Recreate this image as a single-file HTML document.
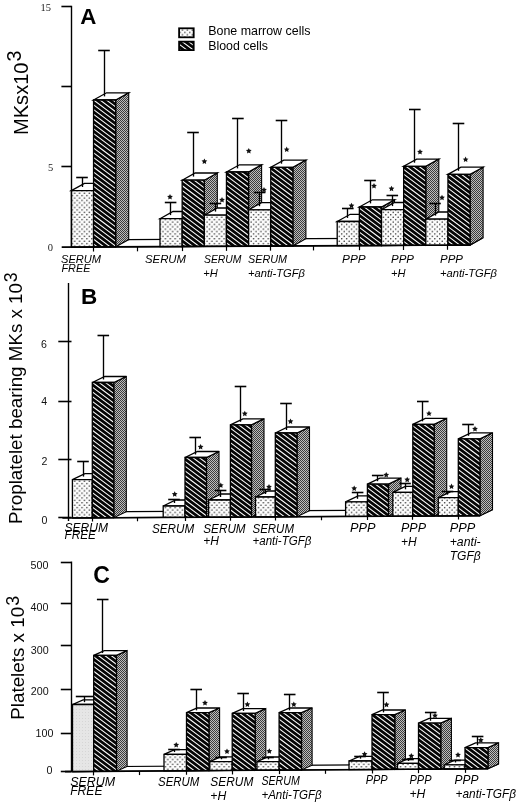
<!DOCTYPE html><html><head><meta charset="utf-8"><style>html,body{margin:0;padding:0;background:#fff;}svg{display:block;filter:blur(0.25px);}</style></head><body>
<svg width="520" height="806" viewBox="0 0 520 806">
<defs>
<pattern id="dots" patternUnits="userSpaceOnUse" width="4.9" height="4.8">
 <rect width="4.9" height="4.8" fill="#fdfdfd"/>
 <circle cx="1.2" cy="1.2" r="0.78" fill="#222"/>
 <circle cx="3.65" cy="3.6" r="0.78" fill="#222"/>
</pattern>
<pattern id="hatch" patternUnits="userSpaceOnUse" width="10" height="3.9" patternTransform="rotate(36)">
 <rect width="10" height="3.9" fill="#050505"/>
 <rect y="1.45" width="10" height="1.0" fill="#ffffff"/>
</pattern>
<pattern id="side" patternUnits="userSpaceOnUse" width="2" height="2">
 <rect width="2" height="2" fill="#bdbdbd"/>
 <rect width="1" height="1" fill="#3c3c3c"/>
 <rect x="1" y="1" width="1" height="1" fill="#3c3c3c"/>
</pattern>
<pattern id="lg" patternUnits="userSpaceOnUse" width="3" height="3"><rect width="3" height="3" fill="#e6e6e6"/><rect x="1" y="1" width="1" height="1" fill="#d6d6d6"/></pattern>
</defs>
<rect width="520" height="806" fill="#fff"/>
<polygon points="71.4,247.05 84.4,239.79 483.1,237.79 470.1,245.06" fill="#fff" stroke="#000" stroke-width="1.2" stroke-linejoin="miter" />
<polygon points="93.55,190.6 106.55,183.4 106.55,239.68 93.55,246.94" fill="url(#side)" stroke="#000" stroke-width="1.1" stroke-linejoin="miter" />
<polygon points="71.4,190.6 84.4,183.4 106.55,183.4 93.55,190.6" fill="#fff" stroke="#000" stroke-width="1.3" stroke-linejoin="miter" />
<polygon points="71.4,190.6 93.55,190.6 93.55,246.94 71.4,247.05" fill="url(#dots)" stroke="#000" stroke-width="1.3" stroke-linejoin="miter" />
<line x1="82.5" y1="177.9" x2="82.5" y2="187" stroke="#000" stroke-width="1.35"/>
<line x1="76.2" y1="177.5" x2="87.8" y2="177.5" stroke="#000" stroke-width="1.6"/>
<polygon points="115.7,100 128.7,92.8 128.7,239.57 115.7,246.83" fill="url(#side)" stroke="#000" stroke-width="1.1" stroke-linejoin="miter" />
<polygon points="93.55,100 106.55,92.8 128.7,92.8 115.7,100" fill="#fff" stroke="#000" stroke-width="1.3" stroke-linejoin="miter" />
<clipPath id="c1"><polygon points="93.55,100 115.7,100 115.7,246.83 93.55,246.94"/></clipPath>
<polygon points="93.55,100 115.7,100 115.7,246.83 93.55,246.94" fill="#050505"/>
<path clip-path="url(#c1)" d="M92.55 75.21L116.7 93.32M92.55 80.01L116.7 98.12M92.55 84.81L116.7 102.92M92.55 89.61L116.7 107.72M92.55 94.41L116.7 112.52M92.55 99.21L116.7 117.32M92.55 104.01L116.7 122.12M92.55 108.81L116.7 126.92M92.55 113.61L116.7 131.72M92.55 118.41L116.7 136.52M92.55 123.21L116.7 141.32M92.55 128.01L116.7 146.12M92.55 132.81L116.7 150.92M92.55 137.61L116.7 155.72M92.55 142.41L116.7 160.53M92.55 147.21L116.7 165.33M92.55 152.01L116.7 170.13M92.55 156.81L116.7 174.93M92.55 161.61L116.7 179.73M92.55 166.41L116.7 184.53M92.55 171.21L116.7 189.33M92.55 176.01L116.7 194.13M92.55 180.81L116.7 198.93M92.55 185.61L116.7 203.73M92.55 190.41L116.7 208.53M92.55 195.21L116.7 213.33M92.55 200.01L116.7 218.13M92.55 204.81L116.7 222.93M92.55 209.61L116.7 227.73M92.55 214.41L116.7 232.53M92.55 219.21L116.7 237.33M92.55 224.01L116.7 242.13M92.55 228.81L116.7 246.93M92.55 233.61L116.7 251.73M92.55 238.41L116.7 256.53M92.55 243.21L116.7 261.33M92.55 248.01L116.7 266.13" stroke="#fff" stroke-width="1.05" fill="none"/>
<polygon points="93.55,100 115.7,100 115.7,246.83 93.55,246.94" fill="none" stroke="#000" stroke-width="1.3"/>
<line x1="104.5" y1="50.8" x2="104.5" y2="96.4" stroke="#000" stroke-width="1.35"/>
<line x1="98.2" y1="50.5" x2="109.8" y2="50.5" stroke="#000" stroke-width="1.6"/>
<polygon points="182.15,218.7 195.15,211.5 195.15,239.23 182.15,246.5" fill="url(#side)" stroke="#000" stroke-width="1.1" stroke-linejoin="miter" />
<polygon points="160,218.7 173,211.5 195.15,211.5 182.15,218.7" fill="#fff" stroke="#000" stroke-width="1.3" stroke-linejoin="miter" />
<polygon points="160,218.7 182.15,218.7 182.15,246.5 160,246.61" fill="url(#dots)" stroke="#000" stroke-width="1.3" stroke-linejoin="miter" />
<line x1="170.5" y1="202.3" x2="170.5" y2="215.1" stroke="#000" stroke-width="1.35"/>
<line x1="164.8" y1="202.5" x2="176.4" y2="202.5" stroke="#000" stroke-width="1.6"/>
<polygon points="204.3,180.2 217.3,173 217.3,239.12 204.3,246.39" fill="url(#side)" stroke="#000" stroke-width="1.1" stroke-linejoin="miter" />
<polygon points="182.15,180.2 195.15,173 217.3,173 204.3,180.2" fill="#fff" stroke="#000" stroke-width="1.3" stroke-linejoin="miter" />
<clipPath id="c2"><polygon points="182.15,180.2 204.3,180.2 204.3,246.39 182.15,246.5"/></clipPath>
<polygon points="182.15,180.2 204.3,180.2 204.3,246.39 182.15,246.5" fill="#050505"/>
<path clip-path="url(#c2)" d="M181.15 156.06L205.3 174.18M181.15 160.86L205.3 178.98M181.15 165.66L205.3 183.78M181.15 170.46L205.3 188.58M181.15 175.26L205.3 193.38M181.15 180.06L205.3 198.18M181.15 184.86L205.3 202.98M181.15 189.66L205.3 207.78M181.15 194.46L205.3 212.58M181.15 199.26L205.3 217.38M181.15 204.06L205.3 222.18M181.15 208.86L205.3 226.98M181.15 213.66L205.3 231.78M181.15 218.46L205.3 236.58M181.15 223.26L205.3 241.38M181.15 228.06L205.3 246.18M181.15 232.86L205.3 250.98M181.15 237.66L205.3 255.78M181.15 242.46L205.3 260.58M181.15 247.26L205.3 265.38" stroke="#fff" stroke-width="1.05" fill="none"/>
<polygon points="182.15,180.2 204.3,180.2 204.3,246.39 182.15,246.5" fill="none" stroke="#000" stroke-width="1.3"/>
<line x1="193.5" y1="132.7" x2="193.5" y2="176.6" stroke="#000" stroke-width="1.35"/>
<line x1="187.2" y1="132.5" x2="198.8" y2="132.5" stroke="#000" stroke-width="1.6"/>
<polygon points="226.45,215.2 239.45,208 239.45,239.01 226.45,246.28" fill="url(#side)" stroke="#000" stroke-width="1.1" stroke-linejoin="miter" />
<polygon points="204.3,215.2 217.3,208 239.45,208 226.45,215.2" fill="#fff" stroke="#000" stroke-width="1.3" stroke-linejoin="miter" />
<polygon points="204.3,215.2 226.45,215.2 226.45,246.28 204.3,246.39" fill="url(#dots)" stroke="#000" stroke-width="1.3" stroke-linejoin="miter" />
<line x1="215.5" y1="203.8" x2="215.5" y2="211.6" stroke="#000" stroke-width="1.35"/>
<line x1="209.6" y1="203.5" x2="221.2" y2="203.5" stroke="#000" stroke-width="1.6"/>
<polygon points="248.6,172 261.6,164.8 261.6,238.9 248.6,246.17" fill="url(#side)" stroke="#000" stroke-width="1.1" stroke-linejoin="miter" />
<polygon points="226.45,172 239.45,164.8 261.6,164.8 248.6,172" fill="#fff" stroke="#000" stroke-width="1.3" stroke-linejoin="miter" />
<clipPath id="c3"><polygon points="226.45,172 248.6,172 248.6,246.17 226.45,246.28"/></clipPath>
<polygon points="226.45,172 248.6,172 248.6,246.17 226.45,246.28" fill="#050505"/>
<path clip-path="url(#c3)" d="M225.45 146.09L249.6 164.2M225.45 150.89L249.6 169M225.45 155.69L249.6 173.8M225.45 160.49L249.6 178.6M225.45 165.29L249.6 183.4M225.45 170.09L249.6 188.2M225.45 174.89L249.6 193M225.45 179.69L249.6 197.8M225.45 184.49L249.6 202.6M225.45 189.29L249.6 207.4M225.45 194.09L249.6 212.2M225.45 198.89L249.6 217M225.45 203.69L249.6 221.8M225.45 208.49L249.6 226.6M225.45 213.29L249.6 231.4M225.45 218.09L249.6 236.2M225.45 222.89L249.6 241M225.45 227.69L249.6 245.8M225.45 232.49L249.6 250.6M225.45 237.29L249.6 255.4M225.45 242.09L249.6 260.2M225.45 246.89L249.6 265" stroke="#fff" stroke-width="1.05" fill="none"/>
<polygon points="226.45,172 248.6,172 248.6,246.17 226.45,246.28" fill="none" stroke="#000" stroke-width="1.3"/>
<line x1="237.5" y1="118.8" x2="237.5" y2="168.4" stroke="#000" stroke-width="1.35"/>
<line x1="232.1" y1="118.5" x2="243.7" y2="118.5" stroke="#000" stroke-width="1.6"/>
<polygon points="270.75,209.8 283.75,202.6 283.75,238.79 270.75,246.06" fill="url(#side)" stroke="#000" stroke-width="1.1" stroke-linejoin="miter" />
<polygon points="248.6,209.8 261.6,202.6 283.75,202.6 270.75,209.8" fill="#fff" stroke="#000" stroke-width="1.3" stroke-linejoin="miter" />
<polygon points="248.6,209.8 270.75,209.8 270.75,246.06 248.6,246.17" fill="url(#dots)" stroke="#000" stroke-width="1.3" stroke-linejoin="miter" />
<line x1="259.5" y1="192.5" x2="259.5" y2="206.2" stroke="#000" stroke-width="1.35"/>
<line x1="253.8" y1="192.5" x2="265.4" y2="192.5" stroke="#000" stroke-width="1.6"/>
<polygon points="292.9,167.3 305.9,160.1 305.9,238.68 292.9,245.95" fill="url(#side)" stroke="#000" stroke-width="1.1" stroke-linejoin="miter" />
<polygon points="270.75,167.3 283.75,160.1 305.9,160.1 292.9,167.3" fill="#fff" stroke="#000" stroke-width="1.3" stroke-linejoin="miter" />
<clipPath id="c4"><polygon points="270.75,167.3 292.9,167.3 292.9,245.95 270.75,246.06"/></clipPath>
<polygon points="270.75,167.3 292.9,167.3 292.9,245.95 270.75,246.06" fill="#050505"/>
<path clip-path="url(#c4)" d="M269.75 140.91L293.9 159.02M269.75 145.71L293.9 163.82M269.75 150.51L293.9 168.62M269.75 155.31L293.9 173.43M269.75 160.11L293.9 178.23M269.75 164.91L293.9 183.03M269.75 169.71L293.9 187.83M269.75 174.51L293.9 192.63M269.75 179.31L293.9 197.43M269.75 184.11L293.9 202.23M269.75 188.91L293.9 207.03M269.75 193.71L293.9 211.83M269.75 198.51L293.9 216.63M269.75 203.31L293.9 221.43M269.75 208.11L293.9 226.23M269.75 212.91L293.9 231.03M269.75 217.71L293.9 235.83M269.75 222.51L293.9 240.63M269.75 227.31L293.9 245.43M269.75 232.11L293.9 250.23M269.75 236.91L293.9 255.03M269.75 241.71L293.9 259.83M269.75 246.51L293.9 264.63" stroke="#fff" stroke-width="1.05" fill="none"/>
<polygon points="270.75,167.3 292.9,167.3 292.9,245.95 270.75,246.06" fill="none" stroke="#000" stroke-width="1.3"/>
<line x1="281.5" y1="120.2" x2="281.5" y2="163.7" stroke="#000" stroke-width="1.35"/>
<line x1="275.7" y1="120.5" x2="287.3" y2="120.5" stroke="#000" stroke-width="1.6"/>
<polygon points="359.35,221.5 372.35,214.3 372.35,238.35 359.35,245.61" fill="url(#side)" stroke="#000" stroke-width="1.1" stroke-linejoin="miter" />
<polygon points="337.2,221.5 350.2,214.3 372.35,214.3 359.35,221.5" fill="#fff" stroke="#000" stroke-width="1.3" stroke-linejoin="miter" />
<polygon points="337.2,221.5 359.35,221.5 359.35,245.61 337.2,245.72" fill="url(#dots)" stroke="#000" stroke-width="1.3" stroke-linejoin="miter" />
<line x1="347.5" y1="208.5" x2="347.5" y2="217.9" stroke="#000" stroke-width="1.35"/>
<line x1="342" y1="208.5" x2="353.6" y2="208.5" stroke="#000" stroke-width="1.6"/>
<polygon points="381.5,207 394.5,199.8 394.5,238.24 381.5,245.5" fill="url(#side)" stroke="#000" stroke-width="1.1" stroke-linejoin="miter" />
<polygon points="359.35,207 372.35,199.8 394.5,199.8 381.5,207" fill="#fff" stroke="#000" stroke-width="1.3" stroke-linejoin="miter" />
<clipPath id="c5"><polygon points="359.35,207 381.5,207 381.5,245.5 359.35,245.61"/></clipPath>
<polygon points="359.35,207 381.5,207 381.5,245.5 359.35,245.61" fill="#050505"/>
<path clip-path="url(#c5)" d="M358.35 183.36L382.5 201.48M358.35 188.16L382.5 206.28M358.35 192.96L382.5 211.08M358.35 197.76L382.5 215.88M358.35 202.56L382.5 220.68M358.35 207.36L382.5 225.48M358.35 212.16L382.5 230.28M358.35 216.96L382.5 235.08M358.35 221.76L382.5 239.88M358.35 226.56L382.5 244.68M358.35 231.36L382.5 249.48M358.35 236.16L382.5 254.28M358.35 240.96L382.5 259.08M358.35 245.76L382.5 263.88" stroke="#fff" stroke-width="1.05" fill="none"/>
<polygon points="359.35,207 381.5,207 381.5,245.5 359.35,245.61" fill="none" stroke="#000" stroke-width="1.3"/>
<line x1="370.5" y1="180.8" x2="370.5" y2="203.4" stroke="#000" stroke-width="1.35"/>
<line x1="364.2" y1="180.5" x2="375.8" y2="180.5" stroke="#000" stroke-width="1.6"/>
<polygon points="403.65,209.7 416.65,202.5 416.65,238.13 403.65,245.39" fill="url(#side)" stroke="#000" stroke-width="1.1" stroke-linejoin="miter" />
<polygon points="381.5,209.7 394.5,202.5 416.65,202.5 403.65,209.7" fill="#fff" stroke="#000" stroke-width="1.3" stroke-linejoin="miter" />
<polygon points="381.5,209.7 403.65,209.7 403.65,245.39 381.5,245.5" fill="url(#dots)" stroke="#000" stroke-width="1.3" stroke-linejoin="miter" />
<line x1="392.5" y1="195" x2="392.5" y2="206.1" stroke="#000" stroke-width="1.35"/>
<line x1="386.5" y1="195.5" x2="398.1" y2="195.5" stroke="#000" stroke-width="1.6"/>
<polygon points="425.8,166.3 438.8,159.1 438.8,238.02 425.8,245.28" fill="url(#side)" stroke="#000" stroke-width="1.1" stroke-linejoin="miter" />
<polygon points="403.65,166.3 416.65,159.1 438.8,159.1 425.8,166.3" fill="#fff" stroke="#000" stroke-width="1.3" stroke-linejoin="miter" />
<clipPath id="c6"><polygon points="403.65,166.3 425.8,166.3 425.8,245.28 403.65,245.39"/></clipPath>
<polygon points="403.65,166.3 425.8,166.3 425.8,245.28 403.65,245.39" fill="#050505"/>
<path clip-path="url(#c6)" d="M402.65 139.79L426.8 157.9M402.65 144.59L426.8 162.7M402.65 149.39L426.8 167.5M402.65 154.19L426.8 172.3M402.65 158.99L426.8 177.1M402.65 163.79L426.8 181.9M402.65 168.59L426.8 186.7M402.65 173.39L426.8 191.5M402.65 178.19L426.8 196.3M402.65 182.99L426.8 201.1M402.65 187.79L426.8 205.9M402.65 192.59L426.8 210.7M402.65 197.39L426.8 215.5M402.65 202.19L426.8 220.3M402.65 206.99L426.8 225.1M402.65 211.79L426.8 229.9M402.65 216.59L426.8 234.7M402.65 221.39L426.8 239.5M402.65 226.19L426.8 244.3M402.65 230.99L426.8 249.1M402.65 235.79L426.8 253.9M402.65 240.59L426.8 258.7M402.65 245.39L426.8 263.5" stroke="#fff" stroke-width="1.05" fill="none"/>
<polygon points="403.65,166.3 425.8,166.3 425.8,245.28 403.65,245.39" fill="none" stroke="#000" stroke-width="1.3"/>
<line x1="414.5" y1="109.6" x2="414.5" y2="162.7" stroke="#000" stroke-width="1.35"/>
<line x1="409" y1="109.5" x2="420.6" y2="109.5" stroke="#000" stroke-width="1.6"/>
<polygon points="447.95,219.2 460.95,212 460.95,237.91 447.95,245.17" fill="url(#side)" stroke="#000" stroke-width="1.1" stroke-linejoin="miter" />
<polygon points="425.8,219.2 438.8,212 460.95,212 447.95,219.2" fill="#fff" stroke="#000" stroke-width="1.3" stroke-linejoin="miter" />
<polygon points="425.8,219.2 447.95,219.2 447.95,245.17 425.8,245.28" fill="url(#dots)" stroke="#000" stroke-width="1.3" stroke-linejoin="miter" />
<line x1="435.5" y1="203" x2="435.5" y2="215.6" stroke="#000" stroke-width="1.35"/>
<line x1="429.2" y1="203.5" x2="440.8" y2="203.5" stroke="#000" stroke-width="1.6"/>
<polygon points="470.1,174.4 483.1,167.2 483.1,237.79 470.1,245.06" fill="url(#side)" stroke="#000" stroke-width="1.1" stroke-linejoin="miter" />
<polygon points="447.95,174.4 460.95,167.2 483.1,167.2 470.1,174.4" fill="#fff" stroke="#000" stroke-width="1.3" stroke-linejoin="miter" />
<clipPath id="c7"><polygon points="447.95,174.4 470.1,174.4 470.1,245.06 447.95,245.17"/></clipPath>
<polygon points="447.95,174.4 470.1,174.4 470.1,245.06 447.95,245.17" fill="#050505"/>
<path clip-path="url(#c7)" d="M446.95 149.01L471.1 167.12M446.95 153.81L471.1 171.93M446.95 158.61L471.1 176.73M446.95 163.41L471.1 181.53M446.95 168.21L471.1 186.33M446.95 173.01L471.1 191.13M446.95 177.81L471.1 195.93M446.95 182.61L471.1 200.73M446.95 187.41L471.1 205.53M446.95 192.21L471.1 210.33M446.95 197.01L471.1 215.13M446.95 201.81L471.1 219.93M446.95 206.61L471.1 224.73M446.95 211.41L471.1 229.53M446.95 216.21L471.1 234.33M446.95 221.01L471.1 239.13M446.95 225.81L471.1 243.93M446.95 230.61L471.1 248.73M446.95 235.41L471.1 253.53M446.95 240.21L471.1 258.33M446.95 245.01L471.1 263.13" stroke="#fff" stroke-width="1.05" fill="none"/>
<polygon points="447.95,174.4 470.1,174.4 470.1,245.06 447.95,245.17" fill="none" stroke="#000" stroke-width="1.3"/>
<line x1="458.5" y1="123" x2="458.5" y2="170.8" stroke="#000" stroke-width="1.35"/>
<line x1="452.7" y1="123.5" x2="464.3" y2="123.5" stroke="#000" stroke-width="1.6"/>
<polygon points="170,194 170.88,195.79 172.85,196.07 171.43,197.46 171.76,199.43 170,198.5 168.24,199.43 168.57,197.46 167.15,196.07 169.12,195.79" fill="#111" stroke="none"/>
<polygon points="204.4,158.5 205.28,160.29 207.25,160.57 205.83,161.96 206.16,163.93 204.4,163 202.64,163.93 202.97,161.96 201.55,160.57 203.52,160.29" fill="#111" stroke="none"/>
<polygon points="222,197 222.88,198.79 224.85,199.07 223.43,200.46 223.76,202.43 222,201.5 220.24,202.43 220.57,200.46 219.15,199.07 221.12,198.79" fill="#111" stroke="none"/>
<polygon points="248.8,148 249.68,149.79 251.65,150.07 250.23,151.46 250.56,153.43 248.8,152.5 247.04,153.43 247.37,151.46 245.95,150.07 247.92,149.79" fill="#111" stroke="none"/>
<polygon points="264,187 264.88,188.79 266.85,189.07 265.43,190.46 265.76,192.43 264,191.5 262.24,192.43 262.57,190.46 261.15,189.07 263.12,188.79" fill="#111" stroke="none"/>
<polygon points="286.7,146.6 287.58,148.39 289.55,148.67 288.13,150.06 288.46,152.03 286.7,151.1 284.94,152.03 285.27,150.06 283.85,148.67 285.82,148.39" fill="#111" stroke="none"/>
<polygon points="351.5,202.7 352.38,204.49 354.35,204.77 352.93,206.16 353.26,208.13 351.5,207.2 349.74,208.13 350.07,206.16 348.65,204.77 350.62,204.49" fill="#111" stroke="none"/>
<polygon points="374,183 374.88,184.79 376.85,185.07 375.43,186.46 375.76,188.43 374,187.5 372.24,188.43 372.57,186.46 371.15,185.07 373.12,184.79" fill="#111" stroke="none"/>
<polygon points="391.5,185.8 392.38,187.59 394.35,187.87 392.93,189.26 393.26,191.23 391.5,190.3 389.74,191.23 390.07,189.26 388.65,187.87 390.62,187.59" fill="#111" stroke="none"/>
<polygon points="420,149 420.88,150.79 422.85,151.07 421.43,152.46 421.76,154.43 420,153.5 418.24,154.43 418.57,152.46 417.15,151.07 419.12,150.79" fill="#111" stroke="none"/>
<polygon points="442,194.7 442.88,196.49 444.85,196.77 443.43,198.16 443.76,200.13 442,199.2 440.24,200.13 440.57,198.16 439.15,196.77 441.12,196.49" fill="#111" stroke="none"/>
<polygon points="465.6,156.6 466.48,158.39 468.45,158.67 467.03,160.06 467.36,162.03 465.6,161.1 463.84,162.03 464.17,160.06 462.75,158.67 464.72,158.39" fill="#111" stroke="none"/>
<line x1="71.5" y1="5.8" x2="71.5" y2="247" stroke="#000" stroke-width="1.4"/>
<line x1="61.4" y1="6.5" x2="71.4" y2="6.5" stroke="#000" stroke-width="1.6"/>
<line x1="61.4" y1="86.5" x2="71.4" y2="86.5" stroke="#000" stroke-width="1.6"/>
<line x1="61.4" y1="166.5" x2="71.4" y2="166.5" stroke="#000" stroke-width="1.6"/>
<line x1="61.7" y1="247.1" x2="470.1" y2="245.06" stroke="#000" stroke-width="1.6"/>
<line x1="93.5" y1="246.94" x2="93.5" y2="251.54" stroke="#000" stroke-width="1.2"/>
<line x1="137.5" y1="246.72" x2="137.5" y2="251.32" stroke="#000" stroke-width="1.2"/>
<line x1="182.5" y1="246.5" x2="182.5" y2="251.1" stroke="#000" stroke-width="1.2"/>
<line x1="226.5" y1="246.28" x2="226.5" y2="250.88" stroke="#000" stroke-width="1.2"/>
<line x1="270.5" y1="246.06" x2="270.5" y2="250.66" stroke="#000" stroke-width="1.2"/>
<line x1="313.5" y1="245.84" x2="313.5" y2="250.44" stroke="#000" stroke-width="1.2"/>
<line x1="359.5" y1="245.61" x2="359.5" y2="250.21" stroke="#000" stroke-width="1.2"/>
<line x1="403.5" y1="245.39" x2="403.5" y2="249.99" stroke="#000" stroke-width="1.2"/>
<line x1="447.5" y1="245.17" x2="447.5" y2="249.77" stroke="#000" stroke-width="1.2"/>
<text x="40.4" y="10.6" font-size="10.5" font-family='"Liberation Serif", serif' fill="#222" >15</text>
<text x="48" y="171.2" font-size="10.5" font-family='"Liberation Serif", serif' fill="#222" >5</text>
<text x="47.8" y="250.8" font-size="10.5" font-family='"Liberation Serif", serif' fill="#222" >0</text>
<polygon points="72.4,517.94 84.9,511.87 492.5,509.63 480,515.7" fill="#fff" stroke="#000" stroke-width="1.2" stroke-linejoin="miter" />
<polygon points="92.3,479.6 104.8,473.6 104.8,511.76 92.3,517.83" fill="url(#side)" stroke="#000" stroke-width="1.1" stroke-linejoin="miter" />
<polygon points="72.4,479.6 84.9,473.6 104.8,473.6 92.3,479.6" fill="#fff" stroke="#000" stroke-width="1.3" stroke-linejoin="miter" />
<polygon points="72.4,479.6 92.3,479.6 92.3,517.83 72.4,517.94" fill="url(#dots)" stroke="#000" stroke-width="1.3" stroke-linejoin="miter" />
<line x1="83.5" y1="461.4" x2="83.5" y2="476.6" stroke="#000" stroke-width="1.35"/>
<line x1="77.2" y1="461.5" x2="88.8" y2="461.5" stroke="#000" stroke-width="1.6"/>
<polygon points="113.8,382.5 126.3,376.5 126.3,511.65 113.8,517.72" fill="url(#side)" stroke="#000" stroke-width="1.1" stroke-linejoin="miter" />
<polygon points="92.3,382.5 104.8,376.5 126.3,376.5 113.8,382.5" fill="#fff" stroke="#000" stroke-width="1.3" stroke-linejoin="miter" />
<clipPath id="c8"><polygon points="92.3,382.5 113.8,382.5 113.8,517.72 92.3,517.83"/></clipPath>
<polygon points="92.3,382.5 113.8,382.5 113.8,517.72 92.3,517.83" fill="#050505"/>
<path clip-path="url(#c8)" d="M91.3 357.48L114.8 375.1M91.3 362.28L114.8 379.9M91.3 367.08L114.8 384.7M91.3 371.88L114.8 389.5M91.3 376.68L114.8 394.3M91.3 381.48L114.8 399.1M91.3 386.28L114.8 403.9M91.3 391.08L114.8 408.7M91.3 395.88L114.8 413.5M91.3 400.68L114.8 418.3M91.3 405.48L114.8 423.1M91.3 410.28L114.8 427.9M91.3 415.08L114.8 432.7M91.3 419.88L114.8 437.5M91.3 424.68L114.8 442.3M91.3 429.48L114.8 447.1M91.3 434.28L114.8 451.9M91.3 439.08L114.8 456.7M91.3 443.88L114.8 461.5M91.3 448.68L114.8 466.3M91.3 453.48L114.8 471.1M91.3 458.28L114.8 475.9M91.3 463.08L114.8 480.7M91.3 467.88L114.8 485.5M91.3 472.68L114.8 490.3M91.3 477.48L114.8 495.1M91.3 482.28L114.8 499.9M91.3 487.08L114.8 504.7M91.3 491.88L114.8 509.5M91.3 496.68L114.8 514.3M91.3 501.48L114.8 519.1M91.3 506.28L114.8 523.9M91.3 511.08L114.8 528.7M91.3 515.88L114.8 533.5M91.3 520.68L114.8 538.3" stroke="#fff" stroke-width="1.05" fill="none"/>
<polygon points="92.3,382.5 113.8,382.5 113.8,517.72 92.3,517.83" fill="none" stroke="#000" stroke-width="1.3"/>
<line x1="103.5" y1="335.4" x2="103.5" y2="379.5" stroke="#000" stroke-width="1.35"/>
<line x1="97.5" y1="335.5" x2="109.1" y2="335.5" stroke="#000" stroke-width="1.6"/>
<polygon points="185,506 197.5,500 197.5,511.25 185,517.32" fill="url(#side)" stroke="#000" stroke-width="1.1" stroke-linejoin="miter" />
<polygon points="163.2,506 175.7,500 197.5,500 185,506" fill="#fff" stroke="#000" stroke-width="1.3" stroke-linejoin="miter" />
<polygon points="163.2,506 185,506 185,517.32 163.2,517.44" fill="url(#dots)" stroke="#000" stroke-width="1.3" stroke-linejoin="miter" />
<line x1="174.5" y1="499.5" x2="174.5" y2="503" stroke="#000" stroke-width="1.35"/>
<line x1="168.2" y1="499.5" x2="179.8" y2="499.5" stroke="#000" stroke-width="1.6"/>
<polygon points="206.5,457.5 219,451.5 219,511.14 206.5,517.21" fill="url(#side)" stroke="#000" stroke-width="1.1" stroke-linejoin="miter" />
<polygon points="185,457.5 197.5,451.5 219,451.5 206.5,457.5" fill="#fff" stroke="#000" stroke-width="1.3" stroke-linejoin="miter" />
<clipPath id="c9"><polygon points="185,457.5 206.5,457.5 206.5,517.21 185,517.32"/></clipPath>
<polygon points="185,457.5 206.5,457.5 206.5,517.21 185,517.32" fill="#050505"/>
<path clip-path="url(#c9)" d="M184 431.8L207.5 449.43M184 436.6L207.5 454.23M184 441.4L207.5 459.03M184 446.2L207.5 463.83M184 451L207.5 468.63M184 455.8L207.5 473.43M184 460.6L207.5 478.23M184 465.4L207.5 483.03M184 470.2L207.5 487.83M184 475L207.5 492.63M184 479.8L207.5 497.43M184 484.6L207.5 502.23M184 489.4L207.5 507.03M184 494.2L207.5 511.83M184 499L207.5 516.63M184 503.8L207.5 521.43M184 508.6L207.5 526.23M184 513.4L207.5 531.03M184 518.2L207.5 535.83" stroke="#fff" stroke-width="1.05" fill="none"/>
<polygon points="185,457.5 206.5,457.5 206.5,517.21 185,517.32" fill="none" stroke="#000" stroke-width="1.3"/>
<line x1="195.5" y1="437.2" x2="195.5" y2="454.5" stroke="#000" stroke-width="1.35"/>
<line x1="189.4" y1="437.5" x2="201" y2="437.5" stroke="#000" stroke-width="1.6"/>
<polygon points="230.4,500 242.9,494 242.9,511.01 230.4,517.07" fill="url(#side)" stroke="#000" stroke-width="1.1" stroke-linejoin="miter" />
<polygon points="208.6,500 221.1,494 242.9,494 230.4,500" fill="#fff" stroke="#000" stroke-width="1.3" stroke-linejoin="miter" />
<polygon points="208.6,500 230.4,500 230.4,517.07 208.6,517.19" fill="url(#dots)" stroke="#000" stroke-width="1.3" stroke-linejoin="miter" />
<line x1="220.5" y1="490" x2="220.5" y2="497" stroke="#000" stroke-width="1.35"/>
<line x1="214.8" y1="490.5" x2="226.4" y2="490.5" stroke="#000" stroke-width="1.6"/>
<polygon points="251.5,424.8 264,418.8 264,510.89 251.5,516.96" fill="url(#side)" stroke="#000" stroke-width="1.1" stroke-linejoin="miter" />
<polygon points="230.4,424.8 242.9,418.8 264,418.8 251.5,424.8" fill="#fff" stroke="#000" stroke-width="1.3" stroke-linejoin="miter" />
<clipPath id="c10"><polygon points="230.4,424.8 251.5,424.8 251.5,516.96 230.4,517.07"/></clipPath>
<polygon points="230.4,424.8 251.5,424.8 251.5,516.96 230.4,517.07" fill="#050505"/>
<path clip-path="url(#c10)" d="M229.4 398.65L252.5 415.97M229.4 403.45L252.5 420.77M229.4 408.25L252.5 425.57M229.4 413.05L252.5 430.38M229.4 417.85L252.5 435.18M229.4 422.65L252.5 439.98M229.4 427.45L252.5 444.78M229.4 432.25L252.5 449.58M229.4 437.05L252.5 454.38M229.4 441.85L252.5 459.18M229.4 446.65L252.5 463.98M229.4 451.45L252.5 468.78M229.4 456.25L252.5 473.58M229.4 461.05L252.5 478.38M229.4 465.85L252.5 483.18M229.4 470.65L252.5 487.98M229.4 475.45L252.5 492.78M229.4 480.25L252.5 497.58M229.4 485.05L252.5 502.38M229.4 489.85L252.5 507.18M229.4 494.65L252.5 511.98M229.4 499.45L252.5 516.78M229.4 504.25L252.5 521.58M229.4 509.05L252.5 526.38M229.4 513.85L252.5 531.18M229.4 518.65L252.5 535.98" stroke="#fff" stroke-width="1.05" fill="none"/>
<polygon points="230.4,424.8 251.5,424.8 251.5,516.96 230.4,517.07" fill="none" stroke="#000" stroke-width="1.3"/>
<line x1="240.5" y1="386.5" x2="240.5" y2="421.8" stroke="#000" stroke-width="1.35"/>
<line x1="234.7" y1="386.5" x2="246.3" y2="386.5" stroke="#000" stroke-width="1.6"/>
<polygon points="275.3,497 287.8,491 287.8,510.76 275.3,516.83" fill="url(#side)" stroke="#000" stroke-width="1.1" stroke-linejoin="miter" />
<polygon points="255.5,497 268,491 287.8,491 275.3,497" fill="#fff" stroke="#000" stroke-width="1.3" stroke-linejoin="miter" />
<polygon points="255.5,497 275.3,497 275.3,516.83 255.5,516.94" fill="url(#dots)" stroke="#000" stroke-width="1.3" stroke-linejoin="miter" />
<line x1="265.5" y1="489.2" x2="265.5" y2="494" stroke="#000" stroke-width="1.35"/>
<line x1="259.2" y1="489.5" x2="270.8" y2="489.5" stroke="#000" stroke-width="1.6"/>
<polygon points="297,433 309.5,427 309.5,510.64 297,516.71" fill="url(#side)" stroke="#000" stroke-width="1.1" stroke-linejoin="miter" />
<polygon points="275.3,433 287.8,427 309.5,427 297,433" fill="#fff" stroke="#000" stroke-width="1.3" stroke-linejoin="miter" />
<clipPath id="c11"><polygon points="275.3,433 297,433 297,516.71 275.3,516.83"/></clipPath>
<polygon points="275.3,433 297,433 297,516.71 275.3,516.83" fill="#050505"/>
<path clip-path="url(#c11)" d="M274.3 408.33L298 426.1M274.3 413.13L298 430.9M274.3 417.93L298 435.7M274.3 422.73L298 440.5M274.3 427.53L298 445.3M274.3 432.33L298 450.1M274.3 437.13L298 454.9M274.3 441.93L298 459.7M274.3 446.73L298 464.5M274.3 451.53L298 469.3M274.3 456.33L298 474.1M274.3 461.13L298 478.9M274.3 465.93L298 483.7M274.3 470.73L298 488.5M274.3 475.53L298 493.3M274.3 480.33L298 498.1M274.3 485.13L298 502.9M274.3 489.93L298 507.7M274.3 494.73L298 512.5M274.3 499.53L298 517.3M274.3 504.33L298 522.1M274.3 509.13L298 526.9M274.3 513.93L298 531.7M274.3 518.73L298 536.5" stroke="#fff" stroke-width="1.05" fill="none"/>
<polygon points="275.3,433 297,433 297,516.71 275.3,516.83" fill="none" stroke="#000" stroke-width="1.3"/>
<line x1="286.5" y1="403.9" x2="286.5" y2="430" stroke="#000" stroke-width="1.35"/>
<line x1="280.2" y1="403.5" x2="291.8" y2="403.5" stroke="#000" stroke-width="1.6"/>
<polygon points="367.4,501.8 379.9,495.8 379.9,510.25 367.4,516.32" fill="url(#side)" stroke="#000" stroke-width="1.1" stroke-linejoin="miter" />
<polygon points="345.6,501.8 358.1,495.8 379.9,495.8 367.4,501.8" fill="#fff" stroke="#000" stroke-width="1.3" stroke-linejoin="miter" />
<polygon points="345.6,501.8 367.4,501.8 367.4,516.32 345.6,516.44" fill="url(#dots)" stroke="#000" stroke-width="1.3" stroke-linejoin="miter" />
<line x1="357.5" y1="492.6" x2="357.5" y2="498.8" stroke="#000" stroke-width="1.35"/>
<line x1="351.8" y1="492.5" x2="363.4" y2="492.5" stroke="#000" stroke-width="1.6"/>
<polygon points="388.5,484.2 401,478.2 401,510.14 388.5,516.2" fill="url(#side)" stroke="#000" stroke-width="1.1" stroke-linejoin="miter" />
<polygon points="367.4,484.2 379.9,478.2 401,478.2 388.5,484.2" fill="#fff" stroke="#000" stroke-width="1.3" stroke-linejoin="miter" />
<clipPath id="c12"><polygon points="367.4,484.2 388.5,484.2 388.5,516.2 367.4,516.32"/></clipPath>
<polygon points="367.4,484.2 388.5,484.2 388.5,516.2 367.4,516.32" fill="#050505"/>
<path clip-path="url(#c12)" d="M366.4 458.2L389.5 475.52M366.4 463L389.5 480.32M366.4 467.8L389.5 485.12M366.4 472.6L389.5 489.92M366.4 477.4L389.5 494.73M366.4 482.2L389.5 499.52M366.4 487L389.5 504.33M366.4 491.8L389.5 509.12M366.4 496.6L389.5 513.93M366.4 501.4L389.5 518.73M366.4 506.2L389.5 523.53M366.4 511L389.5 528.33M366.4 515.8L389.5 533.13" stroke="#fff" stroke-width="1.05" fill="none"/>
<polygon points="367.4,484.2 388.5,484.2 388.5,516.2 367.4,516.32" fill="none" stroke="#000" stroke-width="1.3"/>
<line x1="377.5" y1="475" x2="377.5" y2="481.2" stroke="#000" stroke-width="1.35"/>
<line x1="371.9" y1="475.5" x2="383.5" y2="475.5" stroke="#000" stroke-width="1.6"/>
<polygon points="412.8,492.3 425.3,486.3 425.3,510 412.8,516.07" fill="url(#side)" stroke="#000" stroke-width="1.1" stroke-linejoin="miter" />
<polygon points="392.8,492.3 405.3,486.3 425.3,486.3 412.8,492.3" fill="#fff" stroke="#000" stroke-width="1.3" stroke-linejoin="miter" />
<polygon points="392.8,492.3 412.8,492.3 412.8,516.07 392.8,516.18" fill="url(#dots)" stroke="#000" stroke-width="1.3" stroke-linejoin="miter" />
<line x1="405.5" y1="483.8" x2="405.5" y2="489.3" stroke="#000" stroke-width="1.35"/>
<line x1="399.2" y1="483.5" x2="410.8" y2="483.5" stroke="#000" stroke-width="1.6"/>
<polygon points="434.2,424.3 446.7,418.3 446.7,509.88 434.2,515.95" fill="url(#side)" stroke="#000" stroke-width="1.1" stroke-linejoin="miter" />
<polygon points="412.8,424.3 425.3,418.3 446.7,418.3 434.2,424.3" fill="#fff" stroke="#000" stroke-width="1.3" stroke-linejoin="miter" />
<clipPath id="c13"><polygon points="412.8,424.3 434.2,424.3 434.2,515.95 412.8,516.07"/></clipPath>
<polygon points="412.8,424.3 434.2,424.3 434.2,515.95 412.8,516.07" fill="#050505"/>
<path clip-path="url(#c13)" d="M411.8 401.05L435.2 418.6M411.8 405.85L435.2 423.4M411.8 410.65L435.2 428.2M411.8 415.45L435.2 433M411.8 420.25L435.2 437.8M411.8 425.05L435.2 442.6M411.8 429.85L435.2 447.4M411.8 434.65L435.2 452.2M411.8 439.45L435.2 457M411.8 444.25L435.2 461.8M411.8 449.05L435.2 466.6M411.8 453.85L435.2 471.4M411.8 458.65L435.2 476.2M411.8 463.45L435.2 481M411.8 468.25L435.2 485.8M411.8 473.05L435.2 490.6M411.8 477.85L435.2 495.4M411.8 482.65L435.2 500.2M411.8 487.45L435.2 505M411.8 492.25L435.2 509.8M411.8 497.05L435.2 514.6M411.8 501.85L435.2 519.4M411.8 506.65L435.2 524.2M411.8 511.45L435.2 529M411.8 516.25L435.2 533.8" stroke="#fff" stroke-width="1.05" fill="none"/>
<polygon points="412.8,424.3 434.2,424.3 434.2,515.95 412.8,516.07" fill="none" stroke="#000" stroke-width="1.3"/>
<line x1="422.5" y1="401.8" x2="422.5" y2="421.3" stroke="#000" stroke-width="1.35"/>
<line x1="417" y1="401.5" x2="428.6" y2="401.5" stroke="#000" stroke-width="1.6"/>
<polygon points="458.3,497.7 470.8,491.7 470.8,509.75 458.3,515.82" fill="url(#side)" stroke="#000" stroke-width="1.1" stroke-linejoin="miter" />
<polygon points="438.3,497.7 450.8,491.7 470.8,491.7 458.3,497.7" fill="#fff" stroke="#000" stroke-width="1.3" stroke-linejoin="miter" />
<polygon points="438.3,497.7 458.3,497.7 458.3,515.82 438.3,515.93" fill="url(#dots)" stroke="#000" stroke-width="1.3" stroke-linejoin="miter" />
<line x1="447.5" y1="491" x2="447.5" y2="494.7" stroke="#000" stroke-width="1.35"/>
<line x1="441.7" y1="491.5" x2="453.3" y2="491.5" stroke="#000" stroke-width="1.6"/>
<polygon points="480,438.8 492.5,432.8 492.5,509.63 480,515.7" fill="url(#side)" stroke="#000" stroke-width="1.1" stroke-linejoin="miter" />
<polygon points="458.3,438.8 470.8,432.8 492.5,432.8 480,438.8" fill="#fff" stroke="#000" stroke-width="1.3" stroke-linejoin="miter" />
<clipPath id="c14"><polygon points="458.3,438.8 480,438.8 480,515.7 458.3,515.82"/></clipPath>
<polygon points="458.3,438.8 480,438.8 480,515.7 458.3,515.82" fill="#050505"/>
<path clip-path="url(#c14)" d="M457.3 415.98L481 433.75M457.3 420.78L481 438.55M457.3 425.58L481 443.35M457.3 430.38L481 448.15M457.3 435.18L481 452.95M457.3 439.98L481 457.75M457.3 444.78L481 462.55M457.3 449.58L481 467.35M457.3 454.38L481 472.15M457.3 459.18L481 476.95M457.3 463.98L481 481.75M457.3 468.78L481 486.55M457.3 473.58L481 491.35M457.3 478.38L481 496.15M457.3 483.18L481 500.95M457.3 487.98L481 505.75M457.3 492.78L481 510.55M457.3 497.58L481 515.35M457.3 502.38L481 520.15M457.3 507.18L481 524.95M457.3 511.98L481 529.75M457.3 516.78L481 534.55" stroke="#fff" stroke-width="1.05" fill="none"/>
<polygon points="458.3,438.8 480,438.8 480,515.7 458.3,515.82" fill="none" stroke="#000" stroke-width="1.3"/>
<line x1="468.5" y1="424.3" x2="468.5" y2="435.8" stroke="#000" stroke-width="1.35"/>
<line x1="462.2" y1="424.5" x2="473.8" y2="424.5" stroke="#000" stroke-width="1.6"/>
<polygon points="174.7,491.3 175.58,493.09 177.55,493.37 176.13,494.76 176.46,496.73 174.7,495.8 172.94,496.73 173.27,494.76 171.85,493.37 173.82,493.09" fill="#111" stroke="none"/>
<polygon points="200.6,444 201.48,445.79 203.45,446.07 202.03,447.46 202.36,449.43 200.6,448.5 198.84,449.43 199.17,447.46 197.75,446.07 199.72,445.79" fill="#111" stroke="none"/>
<polygon points="220.8,482.4 221.68,484.19 223.65,484.47 222.23,485.86 222.56,487.83 220.8,486.9 219.04,487.83 219.37,485.86 217.95,484.47 219.92,484.19" fill="#111" stroke="none"/>
<polygon points="244.8,410.7 245.68,412.49 247.65,412.77 246.23,414.16 246.56,416.13 244.8,415.2 243.04,416.13 243.37,414.16 241.95,412.77 243.92,412.49" fill="#111" stroke="none"/>
<polygon points="269,484 269.88,485.79 271.85,486.07 270.43,487.46 270.76,489.43 269,488.5 267.24,489.43 267.57,487.46 266.15,486.07 268.12,485.79" fill="#111" stroke="none"/>
<polygon points="290.5,418.5 291.38,420.29 293.35,420.57 291.93,421.96 292.26,423.93 290.5,423 288.74,423.93 289.07,421.96 287.65,420.57 289.62,420.29" fill="#111" stroke="none"/>
<polygon points="354.2,485.5 355.08,487.29 357.05,487.57 355.63,488.96 355.96,490.93 354.2,490 352.44,490.93 352.77,488.96 351.35,487.57 353.32,487.29" fill="#111" stroke="none"/>
<polygon points="386.2,472 387.08,473.79 389.05,474.07 387.63,475.46 387.96,477.43 386.2,476.5 384.44,477.43 384.77,475.46 383.35,474.07 385.32,473.79" fill="#111" stroke="none"/>
<polygon points="407.2,476.7 408.08,478.49 410.05,478.77 408.63,480.16 408.96,482.13 407.2,481.2 405.44,482.13 405.77,480.16 404.35,478.77 406.32,478.49" fill="#111" stroke="none"/>
<polygon points="429,410.6 429.88,412.39 431.85,412.67 430.43,414.06 430.76,416.03 429,415.1 427.24,416.03 427.57,414.06 426.15,412.67 428.12,412.39" fill="#111" stroke="none"/>
<polygon points="451.5,483.6 452.38,485.39 454.35,485.67 452.93,487.06 453.26,489.03 451.5,488.1 449.74,489.03 450.07,487.06 448.65,485.67 450.62,485.39" fill="#111" stroke="none"/>
<polygon points="475,426 475.88,427.79 477.85,428.07 476.43,429.46 476.76,431.43 475,430.5 473.24,431.43 473.57,429.46 472.15,428.07 474.12,427.79" fill="#111" stroke="none"/>
<line x1="68.5" y1="283" x2="68.5" y2="521" stroke="#000" stroke-width="1.4"/>
<line x1="58.3" y1="341.5" x2="71.5" y2="341.5" stroke="#000" stroke-width="1.6"/>
<line x1="58.3" y1="401.5" x2="71.5" y2="401.5" stroke="#000" stroke-width="1.6"/>
<line x1="58.3" y1="459.5" x2="71.5" y2="459.5" stroke="#000" stroke-width="1.6"/>
<line x1="58.3" y1="517.5" x2="71.5" y2="517.5" stroke="#000" stroke-width="1.6"/>
<line x1="62.4" y1="518" x2="480" y2="515.7" stroke="#000" stroke-width="1.6"/>
<line x1="92.5" y1="517.83" x2="92.5" y2="521.53" stroke="#000" stroke-width="1.2"/>
<line x1="137.5" y1="517.58" x2="137.5" y2="521.28" stroke="#000" stroke-width="1.2"/>
<line x1="185.5" y1="517.32" x2="185.5" y2="521.02" stroke="#000" stroke-width="1.2"/>
<line x1="230.5" y1="517.07" x2="230.5" y2="520.77" stroke="#000" stroke-width="1.2"/>
<line x1="275.5" y1="516.83" x2="275.5" y2="520.53" stroke="#000" stroke-width="1.2"/>
<line x1="321.5" y1="516.57" x2="321.5" y2="520.27" stroke="#000" stroke-width="1.2"/>
<line x1="367.5" y1="516.32" x2="367.5" y2="520.02" stroke="#000" stroke-width="1.2"/>
<line x1="412.5" y1="516.07" x2="412.5" y2="519.77" stroke="#000" stroke-width="1.2"/>
<line x1="458.5" y1="515.82" x2="458.5" y2="519.52" stroke="#000" stroke-width="1.2"/>
<text x="41" y="347.6" font-size="10.6" font-family='"Liberation Sans", sans-serif' fill="#111" >6</text>
<text x="41.3" y="405.4" font-size="10.6" font-family='"Liberation Sans", sans-serif' fill="#111" >4</text>
<text x="41.5" y="464.6" font-size="10.6" font-family='"Liberation Sans", sans-serif' fill="#111" >2</text>
<text x="41.5" y="524.2" font-size="10.6" font-family='"Liberation Sans", sans-serif' fill="#111" >0</text>
<polygon points="72.5,771.53 83.1,766.76 498.6,763.93 488,768.7" fill="#fff" stroke="#000" stroke-width="1.2" stroke-linejoin="miter" />
<polygon points="93.7,704.5 104.3,699.8 104.3,766.61 93.7,771.38" fill="url(#side)" stroke="#000" stroke-width="1.1" stroke-linejoin="miter" />
<polygon points="72.5,704.5 83.1,699.8 104.3,699.8 93.7,704.5" fill="#fff" stroke="#000" stroke-width="1.3" stroke-linejoin="miter" />
<polygon points="72.5,704.5 93.7,704.5 93.7,771.38 72.5,771.53" fill="url(#lg)" stroke="#000" stroke-width="1.3" stroke-linejoin="miter" />
<line x1="84.5" y1="696.8" x2="84.5" y2="702.15" stroke="#000" stroke-width="1.35"/>
<line x1="75.8" y1="696.5" x2="93" y2="696.5" stroke="#000" stroke-width="1.6"/>
<polygon points="116.5,655.4 127.1,650.7 127.1,766.46 116.5,771.23" fill="url(#side)" stroke="#000" stroke-width="1.1" stroke-linejoin="miter" />
<polygon points="93.7,655.4 104.3,650.7 127.1,650.7 116.5,655.4" fill="#fff" stroke="#000" stroke-width="1.3" stroke-linejoin="miter" />
<clipPath id="c15"><polygon points="93.7,655.4 116.5,655.4 116.5,771.23 93.7,771.38"/></clipPath>
<polygon points="93.7,655.4 116.5,655.4 116.5,771.23 93.7,771.38" fill="#050505"/>
<path clip-path="url(#c15)" d="M92.7 632.12L117.5 650.73M92.7 636.92L117.5 655.52M92.7 641.72L117.5 660.32M92.7 646.52L117.5 665.12M92.7 651.32L117.5 669.92M92.7 656.12L117.5 674.72M92.7 660.92L117.5 679.52M92.7 665.72L117.5 684.32M92.7 670.52L117.5 689.12M92.7 675.32L117.5 693.92M92.7 680.12L117.5 698.72M92.7 684.92L117.5 703.52M92.7 689.72L117.5 708.32M92.7 694.52L117.5 713.12M92.7 699.32L117.5 717.92M92.7 704.12L117.5 722.72M92.7 708.92L117.5 727.52M92.7 713.72L117.5 732.32M92.7 718.52L117.5 737.12M92.7 723.32L117.5 741.92M92.7 728.12L117.5 746.72M92.7 732.92L117.5 751.52M92.7 737.72L117.5 756.32M92.7 742.52L117.5 761.12M92.7 747.32L117.5 765.92M92.7 752.12L117.5 770.72M92.7 756.92L117.5 775.52M92.7 761.72L117.5 780.32M92.7 766.52L117.5 785.12M92.7 771.32L117.5 789.92" stroke="#fff" stroke-width="1.05" fill="none"/>
<polygon points="93.7,655.4 116.5,655.4 116.5,771.23 93.7,771.38" fill="none" stroke="#000" stroke-width="1.3"/>
<line x1="102.5" y1="599.6" x2="102.5" y2="653.05" stroke="#000" stroke-width="1.35"/>
<line x1="96.9" y1="599.5" x2="108.5" y2="599.5" stroke="#000" stroke-width="1.6"/>
<polygon points="186.5,754.4 197.1,749.7 197.1,765.98 186.5,770.75" fill="url(#side)" stroke="#000" stroke-width="1.1" stroke-linejoin="miter" />
<polygon points="164,754.4 174.6,749.7 197.1,749.7 186.5,754.4" fill="#fff" stroke="#000" stroke-width="1.3" stroke-linejoin="miter" />
<polygon points="164,754.4 186.5,754.4 186.5,770.75 164,770.91" fill="url(#dots)" stroke="#000" stroke-width="1.3" stroke-linejoin="miter" />
<line x1="174.5" y1="749.8" x2="174.5" y2="752.05" stroke="#000" stroke-width="1.35"/>
<line x1="168.2" y1="749.5" x2="179.8" y2="749.5" stroke="#000" stroke-width="1.6"/>
<polygon points="209,712.7 219.6,708 219.6,765.83 209,770.6" fill="url(#side)" stroke="#000" stroke-width="1.1" stroke-linejoin="miter" />
<polygon points="186.5,712.7 197.1,708 219.6,708 209,712.7" fill="#fff" stroke="#000" stroke-width="1.3" stroke-linejoin="miter" />
<clipPath id="c16"><polygon points="186.5,712.7 209,712.7 209,770.6 186.5,770.75"/></clipPath>
<polygon points="186.5,712.7 209,712.7 209,770.6 186.5,770.75" fill="#050505"/>
<path clip-path="url(#c16)" d="M185.5 687.32L210 705.7M185.5 692.12L210 710.5M185.5 696.92L210 715.3M185.5 701.72L210 720.1M185.5 706.52L210 724.9M185.5 711.32L210 729.7M185.5 716.12L210 734.5M185.5 720.92L210 739.3M185.5 725.72L210 744.1M185.5 730.52L210 748.9M185.5 735.32L210 753.7M185.5 740.12L210 758.5M185.5 744.92L210 763.3M185.5 749.72L210 768.1M185.5 754.52L210 772.9M185.5 759.32L210 777.7M185.5 764.12L210 782.5M185.5 768.92L210 787.3M185.5 773.72L210 792.1" stroke="#fff" stroke-width="1.05" fill="none"/>
<polygon points="186.5,712.7 209,712.7 209,770.6 186.5,770.75" fill="none" stroke="#000" stroke-width="1.3"/>
<line x1="196.5" y1="689.2" x2="196.5" y2="710.35" stroke="#000" stroke-width="1.35"/>
<line x1="190.4" y1="689.5" x2="202" y2="689.5" stroke="#000" stroke-width="1.6"/>
<polygon points="232.2,761.6 242.8,756.9 242.8,765.67 232.2,770.44" fill="url(#side)" stroke="#000" stroke-width="1.1" stroke-linejoin="miter" />
<polygon points="209.8,761.6 220.4,756.9 242.8,756.9 232.2,761.6" fill="#fff" stroke="#000" stroke-width="1.3" stroke-linejoin="miter" />
<polygon points="209.8,761.6 232.2,761.6 232.2,770.44 209.8,770.59" fill="url(#dots)" stroke="#000" stroke-width="1.3" stroke-linejoin="miter" />
<line x1="221.5" y1="757.5" x2="221.5" y2="759.25" stroke="#000" stroke-width="1.35"/>
<line x1="215.2" y1="757.5" x2="226.8" y2="757.5" stroke="#000" stroke-width="1.6"/>
<polygon points="255.2,713.3 265.8,708.6 265.8,765.51 255.2,770.29" fill="url(#side)" stroke="#000" stroke-width="1.1" stroke-linejoin="miter" />
<polygon points="232.2,713.3 242.8,708.6 265.8,708.6 255.2,713.3" fill="#fff" stroke="#000" stroke-width="1.3" stroke-linejoin="miter" />
<clipPath id="c17"><polygon points="232.2,713.3 255.2,713.3 255.2,770.29 232.2,770.44"/></clipPath>
<polygon points="232.2,713.3 255.2,713.3 255.2,770.29 232.2,770.44" fill="#050505"/>
<path clip-path="url(#c17)" d="M231.2 688L256.2 706.75M231.2 692.8L256.2 711.55M231.2 697.6L256.2 716.35M231.2 702.4L256.2 721.15M231.2 707.2L256.2 725.95M231.2 712L256.2 730.75M231.2 716.8L256.2 735.55M231.2 721.6L256.2 740.35M231.2 726.4L256.2 745.15M231.2 731.2L256.2 749.95M231.2 736L256.2 754.75M231.2 740.8L256.2 759.55M231.2 745.6L256.2 764.35M231.2 750.4L256.2 769.15M231.2 755.2L256.2 773.95M231.2 760L256.2 778.75M231.2 764.8L256.2 783.55M231.2 769.6L256.2 788.35M231.2 774.4L256.2 793.15" stroke="#fff" stroke-width="1.05" fill="none"/>
<polygon points="232.2,713.3 255.2,713.3 255.2,770.29 232.2,770.44" fill="none" stroke="#000" stroke-width="1.3"/>
<line x1="243.5" y1="693.7" x2="243.5" y2="710.95" stroke="#000" stroke-width="1.35"/>
<line x1="237.3" y1="693.5" x2="248.9" y2="693.5" stroke="#000" stroke-width="1.6"/>
<polygon points="279.1,761.7 289.7,757 289.7,765.35 279.1,770.12" fill="url(#side)" stroke="#000" stroke-width="1.1" stroke-linejoin="miter" />
<polygon points="257,761.7 267.6,757 289.7,757 279.1,761.7" fill="#fff" stroke="#000" stroke-width="1.3" stroke-linejoin="miter" />
<polygon points="257,761.7 279.1,761.7 279.1,770.12 257,770.27" fill="url(#dots)" stroke="#000" stroke-width="1.3" stroke-linejoin="miter" />
<line x1="268.5" y1="757.5" x2="268.5" y2="759.35" stroke="#000" stroke-width="1.35"/>
<line x1="262.2" y1="757.5" x2="273.8" y2="757.5" stroke="#000" stroke-width="1.6"/>
<polygon points="301.5,712.7 312.1,708 312.1,765.2 301.5,769.97" fill="url(#side)" stroke="#000" stroke-width="1.1" stroke-linejoin="miter" />
<polygon points="279.1,712.7 289.7,708 312.1,708 301.5,712.7" fill="#fff" stroke="#000" stroke-width="1.3" stroke-linejoin="miter" />
<clipPath id="c18"><polygon points="279.1,712.7 301.5,712.7 301.5,769.97 279.1,770.12"/></clipPath>
<polygon points="279.1,712.7 301.5,712.7 301.5,769.97 279.1,770.12" fill="#050505"/>
<path clip-path="url(#c18)" d="M278.1 689.58L302.5 707.88M278.1 694.38L302.5 712.67M278.1 699.17L302.5 717.47M278.1 703.97L302.5 722.27M278.1 708.77L302.5 727.07M278.1 713.57L302.5 731.87M278.1 718.37L302.5 736.67M278.1 723.17L302.5 741.47M278.1 727.97L302.5 746.27M278.1 732.77L302.5 751.07M278.1 737.57L302.5 755.87M278.1 742.37L302.5 760.67M278.1 747.17L302.5 765.47M278.1 751.97L302.5 770.27M278.1 756.77L302.5 775.07M278.1 761.57L302.5 779.87M278.1 766.37L302.5 784.67M278.1 771.17L302.5 789.47" stroke="#fff" stroke-width="1.05" fill="none"/>
<polygon points="279.1,712.7 301.5,712.7 301.5,769.97 279.1,770.12" fill="none" stroke="#000" stroke-width="1.3"/>
<line x1="289.5" y1="694.7" x2="289.5" y2="710.35" stroke="#000" stroke-width="1.35"/>
<line x1="283.9" y1="694.5" x2="295.5" y2="694.5" stroke="#000" stroke-width="1.6"/>
<polygon points="372,761 382.6,756.3 382.6,764.72 372,769.49" fill="url(#side)" stroke="#000" stroke-width="1.1" stroke-linejoin="miter" />
<polygon points="349,761 359.6,756.3 382.6,756.3 372,761" fill="#fff" stroke="#000" stroke-width="1.3" stroke-linejoin="miter" />
<polygon points="349,761 372,761 372,769.49 349,769.65" fill="url(#dots)" stroke="#000" stroke-width="1.3" stroke-linejoin="miter" />
<line x1="360.5" y1="756.5" x2="360.5" y2="758.65" stroke="#000" stroke-width="1.35"/>
<line x1="354.2" y1="756.5" x2="365.8" y2="756.5" stroke="#000" stroke-width="1.6"/>
<polygon points="394.8,714.7 405.4,710 405.4,764.56 394.8,769.34" fill="url(#side)" stroke="#000" stroke-width="1.1" stroke-linejoin="miter" />
<polygon points="372,714.7 382.6,710 405.4,710 394.8,714.7" fill="#fff" stroke="#000" stroke-width="1.3" stroke-linejoin="miter" />
<clipPath id="c19"><polygon points="372,714.7 394.8,714.7 394.8,769.34 372,769.49"/></clipPath>
<polygon points="372,714.7 394.8,714.7 394.8,769.34 372,769.49" fill="#050505"/>
<path clip-path="url(#c19)" d="M371 692.05L395.8 710.65M371 696.85L395.8 715.45M371 701.65L395.8 720.25M371 706.45L395.8 725.05M371 711.25L395.8 729.85M371 716.05L395.8 734.65M371 720.85L395.8 739.45M371 725.65L395.8 744.25M371 730.45L395.8 749.05M371 735.25L395.8 753.85M371 740.05L395.8 758.65M371 744.85L395.8 763.45M371 749.65L395.8 768.25M371 754.45L395.8 773.05M371 759.25L395.8 777.85M371 764.05L395.8 782.65M371 768.85L395.8 787.45" stroke="#fff" stroke-width="1.05" fill="none"/>
<polygon points="372,714.7 394.8,714.7 394.8,769.34 372,769.49" fill="none" stroke="#000" stroke-width="1.3"/>
<line x1="383.5" y1="692.8" x2="383.5" y2="712.35" stroke="#000" stroke-width="1.35"/>
<line x1="377.2" y1="692.5" x2="388.8" y2="692.5" stroke="#000" stroke-width="1.6"/>
<polygon points="418.5,763.3 429.1,758.6 429.1,764.4 418.5,769.18" fill="url(#side)" stroke="#000" stroke-width="1.1" stroke-linejoin="miter" />
<polygon points="397.5,763.3 408.1,758.6 429.1,758.6 418.5,763.3" fill="#fff" stroke="#000" stroke-width="1.3" stroke-linejoin="miter" />
<polygon points="397.5,763.3 418.5,763.3 418.5,769.18 397.5,769.32" fill="url(#dots)" stroke="#000" stroke-width="1.3" stroke-linejoin="miter" />
<line x1="408.5" y1="759" x2="408.5" y2="760.95" stroke="#000" stroke-width="1.35"/>
<line x1="402.2" y1="759.5" x2="413.8" y2="759.5" stroke="#000" stroke-width="1.6"/>
<polygon points="440.8,723.1 451.4,718.4 451.4,764.25 440.8,769.02" fill="url(#side)" stroke="#000" stroke-width="1.1" stroke-linejoin="miter" />
<polygon points="418.5,723.1 429.1,718.4 451.4,718.4 440.8,723.1" fill="#fff" stroke="#000" stroke-width="1.3" stroke-linejoin="miter" />
<clipPath id="c20"><polygon points="418.5,723.1 440.8,723.1 440.8,769.02 418.5,769.18"/></clipPath>
<polygon points="418.5,723.1 440.8,723.1 440.8,769.02 418.5,769.18" fill="#050505"/>
<path clip-path="url(#c20)" d="M417.5 698.12L441.8 716.35M417.5 702.92L441.8 721.15M417.5 707.72L441.8 725.95M417.5 712.52L441.8 730.75M417.5 717.32L441.8 735.55M417.5 722.12L441.8 740.35M417.5 726.92L441.8 745.15M417.5 731.72L441.8 749.95M417.5 736.52L441.8 754.75M417.5 741.32L441.8 759.55M417.5 746.12L441.8 764.35M417.5 750.92L441.8 769.15M417.5 755.72L441.8 773.95M417.5 760.52L441.8 778.75M417.5 765.32L441.8 783.55M417.5 770.12L441.8 788.35" stroke="#fff" stroke-width="1.05" fill="none"/>
<polygon points="418.5,723.1 440.8,723.1 440.8,769.02 418.5,769.18" fill="none" stroke="#000" stroke-width="1.3"/>
<line x1="430.5" y1="712.2" x2="430.5" y2="720.75" stroke="#000" stroke-width="1.35"/>
<line x1="424.9" y1="712.5" x2="436.5" y2="712.5" stroke="#000" stroke-width="1.6"/>
<polygon points="465,764.8 475.6,760.1 475.6,764.09 465,768.86" fill="url(#side)" stroke="#000" stroke-width="1.1" stroke-linejoin="miter" />
<polygon points="444.2,764.8 454.8,760.1 475.6,760.1 465,764.8" fill="#fff" stroke="#000" stroke-width="1.3" stroke-linejoin="miter" />
<polygon points="444.2,764.8 465,764.8 465,768.86 444.2,769" fill="url(#dots)" stroke="#000" stroke-width="1.3" stroke-linejoin="miter" />
<line x1="455.5" y1="760.5" x2="455.5" y2="762.45" stroke="#000" stroke-width="1.35"/>
<line x1="449.2" y1="760.5" x2="460.8" y2="760.5" stroke="#000" stroke-width="1.6"/>
<polygon points="488,747.6 498.6,742.9 498.6,763.93 488,768.7" fill="url(#side)" stroke="#000" stroke-width="1.1" stroke-linejoin="miter" />
<polygon points="465,747.6 475.6,742.9 498.6,742.9 488,747.6" fill="#fff" stroke="#000" stroke-width="1.3" stroke-linejoin="miter" />
<clipPath id="c21"><polygon points="465,747.6 488,747.6 488,768.7 465,768.86"/></clipPath>
<polygon points="465,747.6 488,747.6 488,768.7 465,768.86" fill="#050505"/>
<path clip-path="url(#c21)" d="M464 723.4L489 742.15M464 728.2L489 746.95M464 733L489 751.75M464 737.8L489 756.55M464 742.6L489 761.35M464 747.4L489 766.15M464 752.2L489 770.95M464 757L489 775.75M464 761.8L489 780.55M464 766.6L489 785.35M464 771.4L489 790.15" stroke="#fff" stroke-width="1.05" fill="none"/>
<polygon points="465,747.6 488,747.6 488,768.7 465,768.86" fill="none" stroke="#000" stroke-width="1.3"/>
<line x1="477.5" y1="736.6" x2="477.5" y2="745.25" stroke="#000" stroke-width="1.35"/>
<line x1="471.8" y1="736.5" x2="483.4" y2="736.5" stroke="#000" stroke-width="1.6"/>
<polygon points="176.2,742 177.08,743.79 179.05,744.07 177.63,745.46 177.96,747.43 176.2,746.5 174.44,747.43 174.77,745.46 173.35,744.07 175.32,743.79" fill="#111" stroke="none"/>
<polygon points="205,700 205.88,701.79 207.85,702.07 206.43,703.46 206.76,705.43 205,704.5 203.24,705.43 203.57,703.46 202.15,702.07 204.12,701.79" fill="#111" stroke="none"/>
<polygon points="227,748.5 227.88,750.29 229.85,750.57 228.43,751.96 228.76,753.93 227,753 225.24,753.93 225.57,751.96 224.15,750.57 226.12,750.29" fill="#111" stroke="none"/>
<polygon points="247.4,701.5 248.28,703.29 250.25,703.57 248.83,704.96 249.16,706.93 247.4,706 245.64,706.93 245.97,704.96 244.55,703.57 246.52,703.29" fill="#111" stroke="none"/>
<polygon points="269.3,748.2 270.18,749.99 272.15,750.27 270.73,751.66 271.06,753.63 269.3,752.7 267.54,753.63 267.87,751.66 266.45,750.27 268.42,749.99" fill="#111" stroke="none"/>
<polygon points="293.8,701.5 294.68,703.29 296.65,703.57 295.23,704.96 295.56,706.93 293.8,706 292.04,706.93 292.37,704.96 290.95,703.57 292.92,703.29" fill="#111" stroke="none"/>
<polygon points="364.6,751.2 365.48,752.99 367.45,753.27 366.03,754.66 366.36,756.63 364.6,755.7 362.84,756.63 363.17,754.66 361.75,753.27 363.72,752.99" fill="#111" stroke="none"/>
<polygon points="386.5,701.8 387.38,703.59 389.35,703.87 387.93,705.26 388.26,707.23 386.5,706.3 384.74,707.23 385.07,705.26 383.65,703.87 385.62,703.59" fill="#111" stroke="none"/>
<polygon points="411.3,753 412.18,754.79 414.15,755.07 412.73,756.46 413.06,758.43 411.3,757.5 409.54,758.43 409.87,756.46 408.45,755.07 410.42,754.79" fill="#111" stroke="none"/>
<polygon points="435,712.8 435.88,714.59 437.85,714.87 436.43,716.26 436.76,718.23 435,717.3 433.24,718.23 433.57,716.26 432.15,714.87 434.12,714.59" fill="#111" stroke="none"/>
<polygon points="458,752 458.88,753.79 460.85,754.07 459.43,755.46 459.76,757.43 458,756.5 456.24,757.43 456.57,755.46 455.15,754.07 457.12,753.79" fill="#111" stroke="none"/>
<polygon points="480.8,737.3 481.68,739.09 483.65,739.37 482.23,740.76 482.56,742.73 480.8,741.8 479.04,742.73 479.37,740.76 477.95,739.37 479.92,739.09" fill="#111" stroke="none"/>
<line x1="71.5" y1="561.5" x2="71.5" y2="771.5" stroke="#000" stroke-width="1.4"/>
<line x1="60.8" y1="562.5" x2="71" y2="562.5" stroke="#000" stroke-width="1.6"/>
<line x1="60.8" y1="603.5" x2="71" y2="603.5" stroke="#000" stroke-width="1.6"/>
<line x1="60.8" y1="645.5" x2="71" y2="645.5" stroke="#000" stroke-width="1.6"/>
<line x1="60.8" y1="689.5" x2="71" y2="689.5" stroke="#000" stroke-width="1.6"/>
<line x1="60.8" y1="733.5" x2="71" y2="733.5" stroke="#000" stroke-width="1.6"/>
<line x1="60.8" y1="771.5" x2="71" y2="771.5" stroke="#000" stroke-width="1.6"/>
<line x1="65" y1="771.58" x2="488" y2="768.7" stroke="#000" stroke-width="1.6"/>
<line x1="93.5" y1="771.38" x2="93.5" y2="775.38" stroke="#000" stroke-width="1.2"/>
<line x1="139.5" y1="771.07" x2="139.5" y2="775.07" stroke="#000" stroke-width="1.2"/>
<line x1="186.5" y1="770.75" x2="186.5" y2="774.75" stroke="#000" stroke-width="1.2"/>
<line x1="232.5" y1="770.44" x2="232.5" y2="774.44" stroke="#000" stroke-width="1.2"/>
<line x1="279.5" y1="770.12" x2="279.5" y2="774.12" stroke="#000" stroke-width="1.2"/>
<line x1="325.5" y1="769.81" x2="325.5" y2="773.81" stroke="#000" stroke-width="1.2"/>
<line x1="372.5" y1="769.49" x2="372.5" y2="773.49" stroke="#000" stroke-width="1.2"/>
<line x1="418.5" y1="769.18" x2="418.5" y2="773.18" stroke="#000" stroke-width="1.2"/>
<line x1="465.5" y1="768.86" x2="465.5" y2="772.86" stroke="#000" stroke-width="1.2"/>
<text x="30.6" y="569.3" font-size="10.7" font-family='"Liberation Sans", sans-serif' fill="#111" >500</text>
<text x="30.6" y="611.1" font-size="10.7" font-family='"Liberation Sans", sans-serif' fill="#111" >400</text>
<text x="30.8" y="653.6" font-size="10.7" font-family='"Liberation Sans", sans-serif' fill="#111" >300</text>
<text x="30.8" y="695.3" font-size="10.7" font-family='"Liberation Sans", sans-serif' fill="#111" >200</text>
<text x="35.6" y="736.9" font-size="10.7" font-family='"Liberation Sans", sans-serif' fill="#111" >100</text>
<text x="46.4" y="773.5" font-size="10.7" font-family='"Liberation Sans", sans-serif' fill="#111" >0</text>
<text x="80.2" y="24" font-size="22.3" font-family='"Liberation Sans", sans-serif' fill="#000" font-weight="bold" >A</text>
<text x="81" y="303.6" font-size="22.5" font-family='"Liberation Sans", sans-serif' fill="#000" font-weight="bold" >B</text>
<text x="93.3" y="582.6" font-size="23" font-family='"Liberation Sans", sans-serif' fill="#000" font-weight="bold" >C</text>
<text transform="translate(27.6,135) rotate(-90)" x="0" y="0" font-size="20" font-family='"Liberation Sans", sans-serif' fill="#000" textLength="72.5" lengthAdjust="spacingAndGlyphs">MKsx10</text>
<text transform="translate(21.2,61.4) rotate(-90)" x="0" y="0" font-size="19.6" font-family='"Liberation Sans", sans-serif' fill="#000">3</text>
<text transform="translate(21.6,524) rotate(-90)" x="0" y="0" font-size="18.4" font-family='"Liberation Sans", sans-serif' fill="#000" textLength="241" lengthAdjust="spacingAndGlyphs">Proplatelet bearing MKs x 10</text>
<text transform="translate(16.6,282.2) rotate(-90)" x="0" y="0" font-size="17.8" font-family='"Liberation Sans", sans-serif' fill="#000">3</text>
<text transform="translate(23.8,719.8) rotate(-90)" x="0" y="0" font-size="18.2" font-family='"Liberation Sans", sans-serif' fill="#000" textLength="113" lengthAdjust="spacingAndGlyphs">Platelets x 10</text>
<text transform="translate(19,605.7) rotate(-90)" x="0" y="0" font-size="18" font-family='"Liberation Sans", sans-serif' fill="#000">3</text>
<rect x="179.1" y="28.3" width="14.6" height="9.0" fill="url(#dots)" stroke="#000" stroke-width="1.8"/>
<clipPath id="c22"><polygon points="179.1,41.6 193.7,41.6 193.7,50.2 179.1,50.2"/></clipPath>
<polygon points="179.1,41.6 193.7,41.6 193.7,50.2 179.1,50.2" fill="#050505"/>
<path clip-path="url(#c22)" d="M178.1 24.17L194.7 36.62M178.1 28.97L194.7 41.42M178.1 33.77L194.7 46.22M178.1 38.57L194.7 51.02M178.1 43.37L194.7 55.82M178.1 48.17L194.7 60.62M178.1 52.97L194.7 65.42" stroke="#fff" stroke-width="1.05" fill="none"/>
<polygon points="179.1,41.6 193.7,41.6 193.7,50.2 179.1,50.2" fill="none" stroke="#000" stroke-width="1.8"/>
<text x="208.2" y="35.3" font-size="12.4" font-family='"Liberation Sans", sans-serif' fill="#000" textLength="102.2" lengthAdjust="spacingAndGlyphs" >Bone marrow cells</text>
<text x="208.2" y="49.7" font-size="12.4" font-family='"Liberation Sans", sans-serif' fill="#000" textLength="59.8" lengthAdjust="spacingAndGlyphs" >Blood cells</text>
<text x="61" y="263.3" font-size="11.1" font-family='"Liberation Sans", sans-serif' fill="#000" font-style="italic" textLength="40" lengthAdjust="spacingAndGlyphs" >SERUM</text>
<text x="61.4" y="272.3" font-size="11.1" font-family='"Liberation Sans", sans-serif' fill="#000" font-style="italic" textLength="29" lengthAdjust="spacingAndGlyphs" >FREE</text>
<text x="145" y="263.3" font-size="11.1" font-family='"Liberation Sans", sans-serif' fill="#000" font-style="italic" textLength="41" lengthAdjust="spacingAndGlyphs" >SERUM</text>
<text x="204" y="263.3" font-size="11.1" font-family='"Liberation Sans", sans-serif' fill="#000" font-style="italic" textLength="37.4" lengthAdjust="spacingAndGlyphs" >SERUM</text>
<text x="203.3" y="277" font-size="11.1" font-family='"Liberation Sans", sans-serif' fill="#000" font-style="italic" >+H</text>
<text x="248" y="263.3" font-size="11.1" font-family='"Liberation Sans", sans-serif' fill="#000" font-style="italic" textLength="39" lengthAdjust="spacingAndGlyphs" >SERUM</text>
<text x="248" y="277" font-size="11.1" font-family='"Liberation Sans", sans-serif' fill="#000" font-style="italic" textLength="57" lengthAdjust="spacingAndGlyphs" >+anti-TGF&#946;</text>
<text x="342" y="262.7" font-size="11.1" font-family='"Liberation Sans", sans-serif' fill="#000" font-style="italic" textLength="23.7" lengthAdjust="spacingAndGlyphs" >PPP</text>
<text x="391" y="262.7" font-size="11.1" font-family='"Liberation Sans", sans-serif' fill="#000" font-style="italic" textLength="23" lengthAdjust="spacingAndGlyphs" >PPP</text>
<text x="391" y="276.6" font-size="11.1" font-family='"Liberation Sans", sans-serif' fill="#000" font-style="italic" >+H</text>
<text x="440" y="262.7" font-size="11.1" font-family='"Liberation Sans", sans-serif' fill="#000" font-style="italic" textLength="23" lengthAdjust="spacingAndGlyphs" >PPP</text>
<text x="440" y="276.6" font-size="11.1" font-family='"Liberation Sans", sans-serif' fill="#000" font-style="italic" textLength="57" lengthAdjust="spacingAndGlyphs" >+anti-TGF&#946;</text>
<text x="64.5" y="532" font-size="12" font-family='"Liberation Sans", sans-serif' fill="#000" font-style="italic" textLength="43.5" lengthAdjust="spacingAndGlyphs" >SERUM</text>
<text x="64.5" y="539" font-size="12" font-family='"Liberation Sans", sans-serif' fill="#000" font-style="italic" textLength="31.5" lengthAdjust="spacingAndGlyphs" >FREE</text>
<text x="152" y="532.6" font-size="12" font-family='"Liberation Sans", sans-serif' fill="#000" font-style="italic" textLength="42.3" lengthAdjust="spacingAndGlyphs" >SERUM</text>
<text x="203.3" y="532.6" font-size="12" font-family='"Liberation Sans", sans-serif' fill="#000" font-style="italic" textLength="42.3" lengthAdjust="spacingAndGlyphs" >SERUM</text>
<text x="203.3" y="545" font-size="12" font-family='"Liberation Sans", sans-serif' fill="#000" font-style="italic" >+H</text>
<text x="252.5" y="532.6" font-size="12" font-family='"Liberation Sans", sans-serif' fill="#000" font-style="italic" textLength="41.5" lengthAdjust="spacingAndGlyphs" >SERUM</text>
<text x="252.5" y="545" font-size="12" font-family='"Liberation Sans", sans-serif' fill="#000" font-style="italic" textLength="58.8" lengthAdjust="spacingAndGlyphs" >+anti-TGF&#946;</text>
<text x="350" y="532.1" font-size="12" font-family='"Liberation Sans", sans-serif' fill="#000" font-style="italic" textLength="25.5" lengthAdjust="spacingAndGlyphs" >PPP</text>
<text x="401" y="532.1" font-size="12" font-family='"Liberation Sans", sans-serif' fill="#000" font-style="italic" textLength="25" lengthAdjust="spacingAndGlyphs" >PPP</text>
<text x="401" y="545.5" font-size="12" font-family='"Liberation Sans", sans-serif' fill="#000" font-style="italic" >+H</text>
<text x="449.7" y="532.1" font-size="12" font-family='"Liberation Sans", sans-serif' fill="#000" font-style="italic" textLength="25.6" lengthAdjust="spacingAndGlyphs" >PPP</text>
<text x="449.7" y="545.5" font-size="12" font-family='"Liberation Sans", sans-serif' fill="#000" font-style="italic" textLength="31" lengthAdjust="spacingAndGlyphs" >+anti-</text>
<text x="449.7" y="559.6" font-size="12" font-family='"Liberation Sans", sans-serif' fill="#000" font-style="italic" textLength="31" lengthAdjust="spacingAndGlyphs" >TGF&#946;</text>
<text x="70.2" y="785.6" font-size="12.2" font-family='"Liberation Sans", sans-serif' fill="#000" font-style="italic" textLength="45" lengthAdjust="spacingAndGlyphs" >SERUM</text>
<text x="70.2" y="795" font-size="12.2" font-family='"Liberation Sans", sans-serif' fill="#000" font-style="italic" textLength="32.3" lengthAdjust="spacingAndGlyphs" >FREE</text>
<text x="158" y="785.8" font-size="12.2" font-family='"Liberation Sans", sans-serif' fill="#000" font-style="italic" textLength="41.3" lengthAdjust="spacingAndGlyphs" >SERUM</text>
<text x="210.3" y="785.8" font-size="12.2" font-family='"Liberation Sans", sans-serif' fill="#000" font-style="italic" textLength="43" lengthAdjust="spacingAndGlyphs" >SERUM</text>
<text x="210.3" y="799.6" font-size="12.2" font-family='"Liberation Sans", sans-serif' fill="#000" font-style="italic" >+H</text>
<text x="261.4" y="785" font-size="12.2" font-family='"Liberation Sans", sans-serif' fill="#000" font-style="italic" textLength="38.4" lengthAdjust="spacingAndGlyphs" >SERUM</text>
<text x="261.4" y="798.5" font-size="12.2" font-family='"Liberation Sans", sans-serif' fill="#000" font-style="italic" textLength="60.3" lengthAdjust="spacingAndGlyphs" >+Anti-TGF&#946;</text>
<text x="365.7" y="784" font-size="12.2" font-family='"Liberation Sans", sans-serif' fill="#000" font-style="italic" textLength="22" lengthAdjust="spacingAndGlyphs" >PPP</text>
<text x="409.5" y="784" font-size="12.2" font-family='"Liberation Sans", sans-serif' fill="#000" font-style="italic" textLength="22" lengthAdjust="spacingAndGlyphs" >PPP</text>
<text x="409.5" y="797.6" font-size="12.2" font-family='"Liberation Sans", sans-serif' fill="#000" font-style="italic" >+H</text>
<text x="454.6" y="784" font-size="12.2" font-family='"Liberation Sans", sans-serif' fill="#000" font-style="italic" textLength="24" lengthAdjust="spacingAndGlyphs" >PPP</text>
<text x="455.6" y="798.2" font-size="12.2" font-family='"Liberation Sans", sans-serif' fill="#000" font-style="italic" textLength="60.4" lengthAdjust="spacingAndGlyphs" >+anti-TGF&#946;</text>
</svg></body></html>
